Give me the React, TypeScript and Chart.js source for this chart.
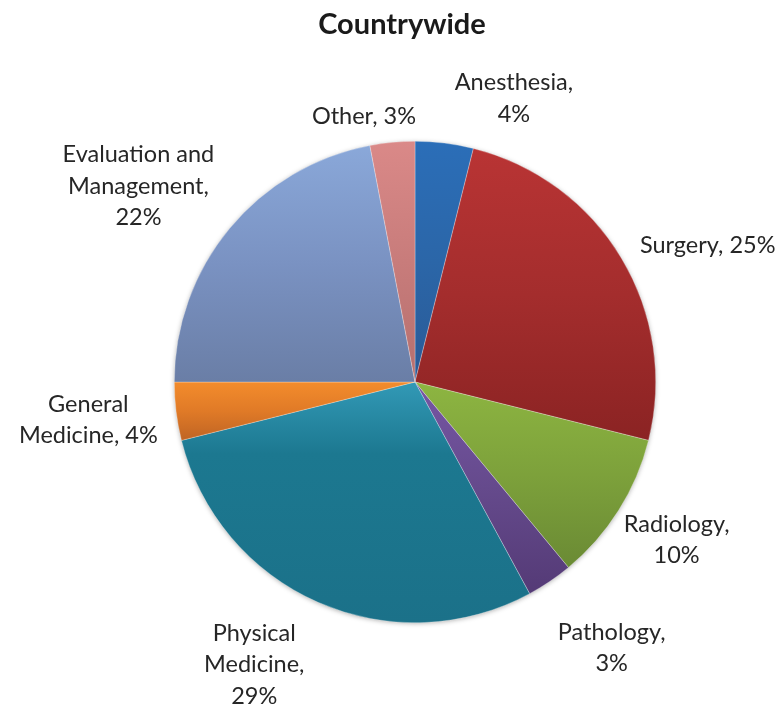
import React, { useEffect, useRef } from "react";
import { Chart, registerables } from "chart.js";

Chart.register(...registerables);

const chartTitle = "Countrywide";
const categories = [
  "Anesthesia",
  "Surgery",
  "Radiology",
  "Pathology",
  "Physical Medicine",
  "General Medicine",
  "Evaluation and Management",
  "Other",
];
const shares = [3.9, 25.0, 10.1, 3.1, 29.0, 3.9, 22.0, 3.0];
const percentLabels = ["4%", "25%", "10%", "3%", "29%", "4%", "22%", "3%"];
// words per line for each label
const labelWrap = [[1, 1], [2], [1, 1], [1, 1], [1, 1, 1], [1, 2], [2, 1, 1], [2]];
// label block centers relative to pie centre, in units of the radius
const labelPlace = [
  [0.411, -1.178],
  [1.216, -0.568],
  [1.087, 0.656],
  [0.817, 1.104],
  [-0.668, 1.174],
  [-1.357, 0.158],
  [-1.149, -0.813],
  [-0.212, -1.104],
];
// gradient stops: top, middle, bottom
const sliceColors = [
  ["#2b6eb8", "#2b66a8", "#2a5a96"],
  ["#b93434", "#a42d2d", "#8b2323"],
  ["#8db541", "#7da13b", "#6a8a34"],
  ["#7656a4", "#654a8c", "#543a76"],
  ["#3299b6", "#1c7890", "#1b7189"],
  ["#f38c2c", "#e07a27", "#bf6424"],
  ["#8aa8d9", "#7a92c2", "#6a7ea6"],
  ["#da8988", "#c87c7b", "#b56f6e"],
];
const middleStop = [0.5, 0.5, 0.5, 0.5, 0.3, 0.5, 0.5, 0.5];

const FONT = "Lato, 'Open Sans', sans-serif";

function buildLines(i: number): string[] {
  const words = `${categories[i]}, ${percentLabels[i]}`.split(" ");
  const out: string[] = [];
  let k = 0;
  for (const n of labelWrap[i]) {
    out.push(words.slice(k, k + n).join(" "));
    k += n;
  }
  if (k < words.length) out[out.length - 1] += " " + words.slice(k).join(" ");
  return out;
}

function sliceGradient(ctx: any) {
  const i = ctx.dataIndex;
  const chart = ctx.chart;
  const area = chart.chartArea;
  if (i === undefined) return "#888";
  if (!area) return sliceColors[i][1];
  const cx = (area.left + area.right) / 2;
  const cy = (area.top + area.bottom) / 2;
  const r = Math.min(area.width, area.height) / 2;
  const total = shares.reduce((a, b) => a + b, 0);
  let cum = 0;
  for (let k = 0; k < i; k++) cum += shares[k];
  const start = -Math.PI / 2 + (2 * Math.PI * cum) / total;
  const end = start + (2 * Math.PI * shares[i]) / total;
  let minY = cy;
  let maxY = cy;
  for (let k = 0; k <= 90; k++) {
    const a = start + ((end - start) * k) / 90;
    const y = cy + r * Math.sin(a);
    if (y < minY) minY = y;
    if (y > maxY) maxY = y;
  }
  const g = chart.ctx.createLinearGradient(0, minY, 0, maxY + 0.01);
  g.addColorStop(0, sliceColors[i][0]);
  g.addColorStop(middleStop[i], sliceColors[i][1]);
  g.addColorStop(1, sliceColors[i][2]);
  return g;
}

const decorPlugin = {
  id: "decor",
  beforeDatasetsDraw(chart: any) {
    const meta = chart.getDatasetMeta(0);
    const arc = meta.data[0];
    if (!arc) return;
    const c = chart.ctx;
    c.save();
    c.shadowColor = "rgba(0,0,0,0.35)";
    c.shadowBlur = 5;
    c.shadowOffsetX = 0;
    c.shadowOffsetY = 1;
    c.fillStyle = "#ffffff";
    c.beginPath();
    c.arc(arc.x, arc.y, arc.outerRadius - 0.5, 0, Math.PI * 2);
    c.fill();
    c.restore();
  },
  afterDatasetsDraw(chart: any) {
    const meta = chart.getDatasetMeta(0);
    const c = chart.ctx;
    c.save();
    // title
    c.fillStyle = "#1a1a1a";
    c.font = `bold 29px ${FONT}`;
    c.textAlign = "center";
    c.textBaseline = "middle";
    c.fillText(chartTitle, 402, 25);
    // labels
    c.fillStyle = "#262626";
    c.font = `23.5px ${FONT}`;
    const lh = 31.5;
    meta.data.forEach((arc: any, i: number) => {
      const r = arc.outerRadius;
      const x = arc.x + labelPlace[i][0] * r;
      const y = arc.y + labelPlace[i][1] * r;
      const lines = buildLines(i);
      const y0 = y - ((lines.length - 1) * lh) / 2;
      lines.forEach((ln, j) => c.fillText(ln, x, y0 + j * lh));
    });
    c.restore();
  },
};

export default function App() {
  const ref = useRef<HTMLCanvasElement | null>(null);
  useEffect(() => {
    if (!ref.current) return;
    const chart = new Chart(ref.current, {
      type: "pie",
      data: {
        labels: categories,
        datasets: [
          {
            data: shares,
            backgroundColor: sliceGradient as any,
            borderColor: "rgba(255,255,255,0.45)",
            borderWidth: 0.6,
          },
        ],
      },
      options: {
        responsive: false,
        animation: false,
        layout: { padding: { left: 174, right: 126, top: 141, bottom: 84 } },
        plugins: {
          legend: { display: false },
          tooltip: { enabled: false },
          title: { display: false },
        },
      },
      plugins: [decorPlugin],
    });
    return () => chart.destroy();
  }, []);
  return (
    <div style={{ position: "absolute", left: 0, top: 0, width: 782, height: 707, background: "#fff" }}>
      <canvas ref={ref} width={782} height={707} style={{ display: "block" }} />
    </div>
  );
}
